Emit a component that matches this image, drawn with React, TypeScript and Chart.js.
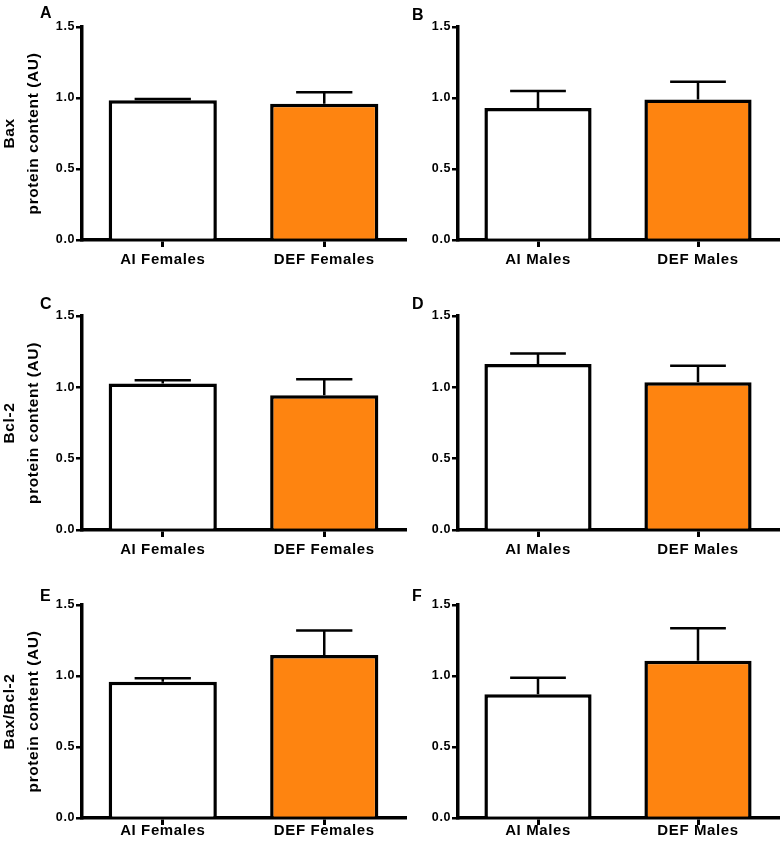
import React, { useEffect, useRef } from 'react';
import { Chart, registerables } from 'chart.js';

Chart.register(...registerables);

// ---------- data ----------
const femaleGroups = ['AI Females', 'DEF Females'];
const maleGroups = ['AI Males', 'DEF Males'];
const yTickValues = [0, 0.5, 1.0, 1.5];

const baxFemaleMean = [0.985, 0.96];
const baxFemaleSem = [0.008, 0.08];
const baxMaleMean = [0.93, 0.99];
const baxMaleSem = [0.12, 0.125];

const bcl2FemaleMean = [1.027, 0.945];
const bcl2FemaleSem = [0.022, 0.112];
const bcl2MaleMean = [1.163, 1.035];
const bcl2MaleSem = [0.075, 0.116];

const ratioFemaleMean = [0.96, 1.148];
const ratioFemaleSem = [0.025, 0.172];
const ratioMaleMean = [0.871, 1.108];
const ratioMaleSem = [0.117, 0.228];

const barColors = ['#FFFFFF', '#FE8410'];
const FONT = "'Liberation Sans', Arial, Helvetica, sans-serif";

type PanelSpec = {
  letter: string;
  letterX: number;
  letterY: number;
  labels: string[];
  mean: number[];
  sem: number[];
  title: string[] | null;
  left: number;
  top: number;
  width: number;
  height: number;
  padTop: number;
  padRight: number;
  yWidth: number;
  xHeight: number;
  xTickPad: number;
};

const LEFT_COL = { left: 0, width: 412, padRight: 7, yWidth: 82, letterX: 40 };
const RIGHT_COL = { left: 400, width: 383, padRight: 5, yWidth: 58, letterX: 412 };
const ROW1 = { top: 0, height: 270, padTop: 27, xHeight: 30, xTickPad: 3.5 };
const ROW2 = { top: 270, height: 290, padTop: 46, xHeight: 30, xTickPad: 3.5 };
const ROW3 = { top: 560, height: 285, padTop: 45, xHeight: 27, xTickPad: -3 };

const panels: PanelSpec[] = [
  { letter: 'A', letterY: 7, labels: femaleGroups, mean: baxFemaleMean, sem: baxFemaleSem, title: ['Bax', 'protein content (AU)'], ...LEFT_COL, ...ROW1 },
  { letter: 'B', letterY: 9, labels: maleGroups, mean: baxMaleMean, sem: baxMaleSem, title: null, ...RIGHT_COL, ...ROW1 },
  { letter: 'C', letterY: 298, labels: femaleGroups, mean: bcl2FemaleMean, sem: bcl2FemaleSem, title: ['Bcl-2', 'protein content (AU)'], ...LEFT_COL, ...ROW2 },
  { letter: 'D', letterY: 298, labels: maleGroups, mean: bcl2MaleMean, sem: bcl2MaleSem, title: null, ...RIGHT_COL, ...ROW2 },
  { letter: 'E', letterY: 590, labels: femaleGroups, mean: ratioFemaleMean, sem: ratioFemaleSem, title: ['Bax/Bcl-2', 'protein content (AU)'], ...LEFT_COL, ...ROW3 },
  { letter: 'F', letterY: 590, labels: maleGroups, mean: ratioMaleMean, sem: ratioMaleSem, title: null, ...RIGHT_COL, ...ROW3 },
];

function Panel({ spec }: { spec: PanelSpec }) {
  const ref = useRef<HTMLCanvasElement | null>(null);

  useEffect(() => {
    if (!ref.current) return;
    const mean = spec.mean;
    const sem = spec.sem;

    const spacingPlugin = {
      id: 'letterSpacingPlugin',
      beforeDraw(chart: any) {
        try {
          (chart.ctx as any).letterSpacing = '0.6px';
        } catch (e) {}
      },
    };

    const semPlugin = {
      id: 'semBars',
      afterDatasetsDraw(chart: any) {
        const meta = chart.getDatasetMeta(0);
        const yScale = chart.scales.y;
        const ctx = chart.ctx;
        ctx.save();
        ctx.strokeStyle = '#000';
        ctx.lineWidth = 2.5;
        meta.data.forEach((bar: any, i: number) => {
          const p = bar.getProps(['x', 'width'], true);
          const yBase = yScale.getPixelForValue(mean[i]);
          const yTop = yScale.getPixelForValue(mean[i] + sem[i]);
          const half = p.width * 0.26;
          ctx.beginPath();
          ctx.moveTo(p.x, yBase);
          ctx.lineTo(p.x, yTop);
          ctx.moveTo(p.x - half, yTop);
          ctx.lineTo(p.x + half, yTop);
          ctx.stroke();
        });
        ctx.restore();
      },
    };

    const chart = new Chart(ref.current, {
      type: 'bar',
      data: {
        labels: spec.labels,
        datasets: [
          {
            data: mean,
            backgroundColor: barColors,
            borderColor: '#000',
            borderWidth: 3.5,
            borderSkipped: 'start',
            barPercentage: 0.67,
            categoryPercentage: 1,
          },
        ],
      },
      options: {
        responsive: false,
        animation: false,
        events: [],
        layout: {
          padding: { top: spec.padTop, right: spec.padRight, left: 0, bottom: 0 },
        },
        plugins: {
          legend: { display: false },
          tooltip: { enabled: false },
          title: { display: false },
        },
        scales: {
          x: {
            type: 'category',
            z: 1,
            ticks: {
              color: '#000',
              font: { family: FONT, size: 15, weight: 'bold', lineHeight: 1.2 },
              padding: spec.xTickPad,
              maxRotation: 0,
              autoSkip: false,
            },
            grid: {
              display: true,
              offset: false,
              drawOnChartArea: false,
              drawTicks: true,
              tickLength: 7,
              tickWidth: 3,
              tickColor: '#000',
              color: '#000',
              lineWidth: 3,
            },
            border: { display: true, color: '#000', width: 3.5 },
            afterFit: (s: any) => {
              s.height = spec.xHeight;
            },
          },
          y: {
            min: 0,
            max: 1.5,
            afterBuildTicks: (s: any) => {
              s.ticks = yTickValues.map((v) => ({ value: v }));
            },
            ticks: {
              color: '#000',
              font: { family: FONT, size: 12.5, weight: 'bold' },
              padding: 1,
              callback: (v: any) => Number(v).toFixed(1),
            },
            grid: {
              display: true,
              drawOnChartArea: false,
              drawTicks: true,
              tickLength: 6,
              tickWidth: 2.5,
              tickColor: '#000',
              color: '#000',
              lineWidth: 2.5,
            },
            border: { display: true, color: '#000', width: 3.5 },
            title: spec.title
              ? {
                  display: true,
                  text: spec.title,
                  color: '#000',
                  font: { family: FONT, size: 15.5, weight: 'bold', lineHeight: '24px' },
                  padding: { top: -2, bottom: 0 },
                }
              : { display: false },
            afterFit: (s: any) => {
              s.width = spec.yWidth;
            },
          },
        },
      } as any,
      plugins: [spacingPlugin, semPlugin],
    });

    return () => chart.destroy();
  }, [spec]);

  return (
    <>
      <canvas
        ref={ref}
        width={spec.width}
        height={spec.height}
        style={{
          position: 'absolute',
          left: spec.left,
          top: spec.top,
          width: spec.width,
          height: spec.height,
        }}
      />
      <div
        style={{
          position: 'absolute',
          left: spec.letterX,
          top: spec.letterY - 2,
          fontFamily: FONT,
          fontWeight: 'bold',
          fontSize: 16,
          lineHeight: '16px',
          color: '#000',
        }}
      >
        {spec.letter}
      </div>
    </>
  );
}

export default function App() {
  return (
    <div
      style={{
        position: 'absolute',
        left: 0,
        top: 0,
        width: 783,
        height: 845,
        background: '#fff',
        overflow: 'hidden',
      }}
    >
      {panels.map((p) => (
        <Panel key={p.letter} spec={p} />
      ))}
    </div>
  );
}
